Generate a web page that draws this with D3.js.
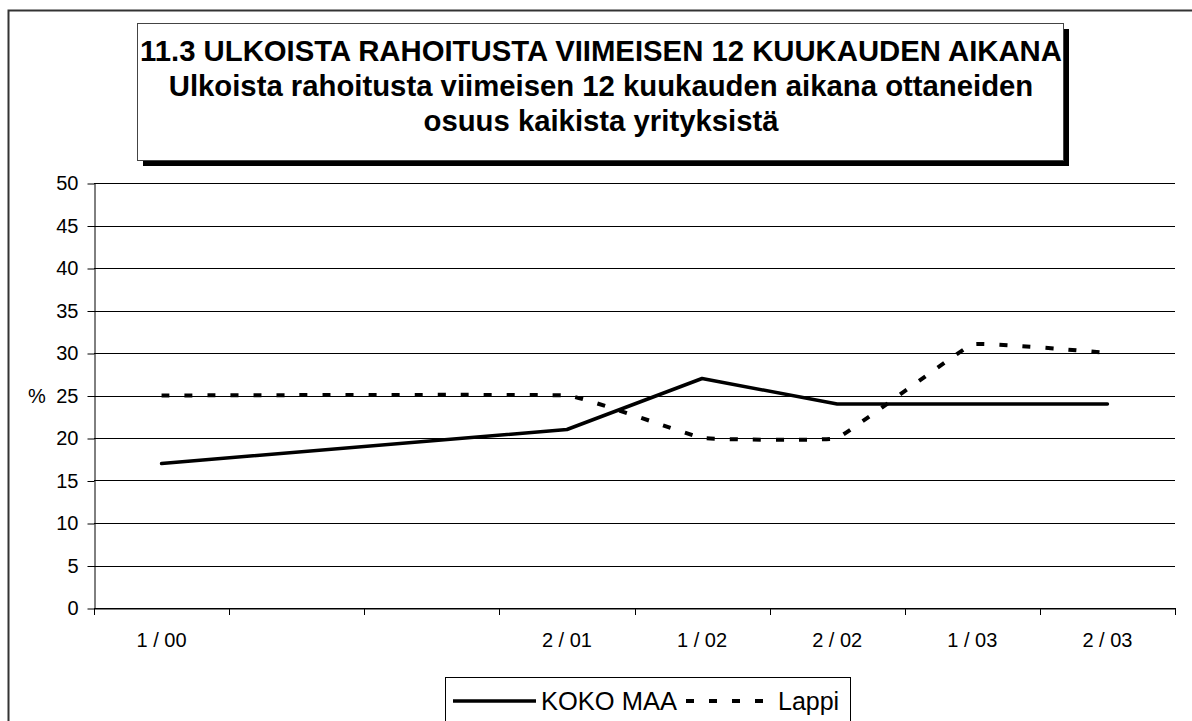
<!DOCTYPE html>
<html>
<head>
<meta charset="utf-8">
<script src="https://cdn.jsdelivr.net/npm/d3@7"></script>
<style>
  html, body { margin: 0; padding: 0; background: #fff; }
  svg { display: block; font-family: "Liberation Sans", Arial, sans-serif; }
</style>
</head>
<body>
<svg id="chart" width="1192" height="721"></svg>
<script>
// ---- data ----
const categories = ["1 / 00", "2 / 00", "1 / 01", "2 / 01", "1 / 02", "2 / 02", "1 / 03", "2 / 03"];
const tickLabels = ["1 / 00", "", "", "2 / 01", "1 / 02", "2 / 02", "1 / 03", "2 / 03"];
const kokoMaa = [17, null, null, 21, 27, 24, 24, 24];
const lappi   = [25, null, null, 25, 20, 20, 31, 30];
const seriesNames = ["KOKO MAA", "Lappi"];
const yTicks = [0, 5, 10, 15, 20, 25, 30, 35, 40, 45, 50];
const titleLines = [
  "11.3 ULKOISTA RAHOITUSTA VIIMEISEN 12 KUUKAUDEN AIKANA",
  "Ulkoista rahoitusta viimeisen 12 kuukauden aikana ottaneiden",
  "osuus kaikista yrityksistä"
];

// ---- layout ----
const svg = d3.select("#chart");
svg.append("rect").attr("width", 1192).attr("height", 721).attr("fill", "#fff");

// outer frame
svg.append("rect").attr("x", 8.5).attr("y", 10.5).attr("width", 1200).attr("height", 730)
  .attr("fill", "none").attr("stroke", "#333").attr("stroke-width", 2);

// title box with shadow
const tb = {x: 137, y: 23, w: 926, h: 137, off: 6};
svg.append("rect").attr("x", tb.x + tb.off).attr("y", tb.y + tb.off).attr("width", tb.w).attr("height", tb.h).attr("fill", "#000");
svg.append("rect").attr("x", tb.x + 0.5).attr("y", tb.y + 0.5).attr("width", tb.w).attr("height", tb.h)
  .attr("fill", "#fff").attr("stroke", "#444").attr("stroke-width", 1);
svg.append("g").selectAll("text").data(titleLines).join("text")
  .attr("x", 601).attr("y", (d, i) => 61 + i * 35)
  .attr("text-anchor", "middle").attr("font-weight", "bold").attr("font-size", 29.3)
  .attr("fill", "#000").text(d => d);

// scales
const x = d3.scaleBand().domain(categories).range([94, 1175]).paddingInner(0).paddingOuter(0);
const y = d3.scaleLinear().domain([0, 50]).range([608, 183]);

// gridlines
svg.append("g").selectAll("line").data(yTicks).join("line")
  .attr("x1", 94).attr("x2", 1175)
  .attr("y1", d => Math.round(y(d)) + 0.5).attr("y2", d => Math.round(y(d)) + 0.5)
  .attr("stroke", "#000").attr("stroke-width", 1);

// y axis
const yAxis = svg.append("g").attr("transform", "translate(94.5,0.5)")
  .call(d3.axisLeft(y).tickValues(yTicks).tickSize(7).tickSizeOuter(0).tickPadding(9));
yAxis.select(".domain").attr("stroke", "#000");
yAxis.selectAll(".tick line").attr("stroke", "#000");
yAxis.selectAll(".tick text").attr("font-size", 20).attr("fill", "#000")
  .attr("font-family", "Liberation Sans, Arial, sans-serif");
svg.append("text").attr("x", 28).attr("y", y(25)).attr("dy", "0.35em")
  .attr("font-size", 20).attr("fill", "#000").text("%");

// x axis: labels
const xAxis = svg.append("g").attr("transform", "translate(0,608.5)")
  .call(d3.axisBottom(x).tickSize(0).tickSizeOuter(0).tickPadding(24)
    .tickFormat((d, i) => tickLabels[i]));
xAxis.select(".domain").attr("stroke", "#000");
xAxis.selectAll(".tick text").attr("font-size", 20).attr("fill", "#000")
  .attr("font-family", "Liberation Sans, Arial, sans-serif");
// x axis: boundary ticks
const boundaries = categories.map(c => x(c)).concat([x.range()[1]]);
svg.append("g").selectAll("line").data(boundaries).join("line")
  .attr("x1", d => Math.round(d) + 0.5).attr("x2", d => Math.round(d) + 0.5)
  .attr("y1", 608).attr("y2", 615).attr("stroke", "#000").attr("stroke-width", 1);

// series
const cx = c => x(c) + x.bandwidth() / 2;
const pts = arr => categories.map((c, i) => ({c, v: arr[i]})).filter(d => d.v != null);

svg.append("path").datum(pts(kokoMaa))
  .attr("fill", "none").attr("stroke", "#000").attr("stroke-width", 3.5)
  .attr("stroke-linejoin", "round").attr("stroke-linecap", "round")
  .attr("d", d3.line().x(d => cx(d.c)).y(d => y(d.v)));

svg.append("path").datum(pts(lappi))
  .attr("fill", "none").attr("stroke", "#000").attr("stroke-width", 4)
  .attr("stroke-dasharray", "8,15")
  .attr("d", d3.line().x(d => cx(d.c)).y(d => y(d.v)).curve(d3.curveCardinal.tension(0.8)));

// legend
const lg = svg.append("g");
lg.append("rect").attr("x", 445.5).attr("y", 677.5).attr("width", 405).attr("height", 60)
  .attr("fill", "#fff").attr("stroke", "#000").attr("stroke-width", 1);
lg.append("line").attr("x1", 453).attr("x2", 536).attr("y1", 701).attr("y2", 701)
  .attr("stroke", "#000").attr("stroke-width", 3.5);
lg.append("text").attr("x", 541).attr("y", 710).attr("font-size", 25.5).attr("fill", "#000").text(seriesNames[0]);
lg.append("line").attr("x1", 686).attr("x2", 773).attr("y1", 701).attr("y2", 701)
  .attr("stroke", "#000").attr("stroke-width", 4).attr("stroke-dasharray", "8,15");
lg.append("text").attr("x", 778).attr("y", 710).attr("font-size", 25).attr("fill", "#000").text(seriesNames[1]);
</script>
</body>
</html>
